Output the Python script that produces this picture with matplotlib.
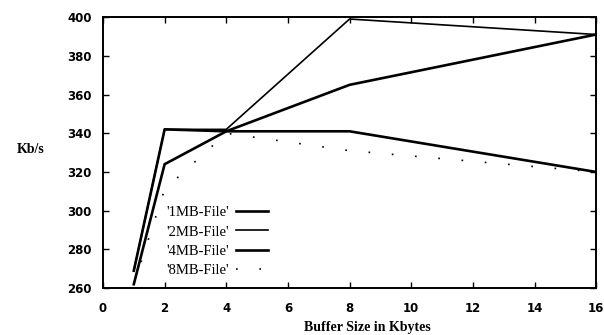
import matplotlib.pyplot as plt

# buffer sizes (Kbytes) and measured throughput (Kb/s) per file size
buf = [1, 2, 4, 8, 16]
mb1 = [269, 342, 341, 341, 320]
mb2 = [269, 342, 342, 399, 391]
mb4 = [262, 324, 341, 365, 391]
mb8 = [262, 311, 340, 331, 320]

labels = ["'1MB-File'", "'2MB-File'", "'4MB-File'", "'8MB-File'"]

fig = plt.figure(figsize=(6.04, 3.35), dpi=100)
ax = fig.add_axes([0.1705, 0.14, 0.8165, 0.809])

ax.plot(buf, mb1, color='black', lw=1.9, label=labels[0])
ax.plot(buf, mb2, color='black', lw=1.2, label=labels[1])
ax.plot(buf, mb4, color='black', lw=1.9, label=labels[2])
ax.plot(buf, mb8, color='black', lw=1.2, ls=(0, (1, 13)), label=labels[3])

ax.set_xlim(0, 16)
ax.set_ylim(260, 400)
ax.set_xticks(range(0, 17, 2))
ax.set_yticks(range(260, 401, 20))

for s in ax.spines.values():
    s.set_linewidth(1.4)

ax.tick_params(direction='in', length=4, width=1.0, top=True, right=True)
ax.tick_params(axis='x', pad=10)
ax.tick_params(axis='y', pad=8)
for t in ax.get_xticklabels() + ax.get_yticklabels():
    t.set_fontfamily('DejaVu Sans')
    t.set_fontweight('bold')
    t.set_fontsize(8.5)

ax.set_xlabel('Buffer Size in Kbytes', fontfamily='Liberation Serif',
              fontweight='bold', fontsize=10, labelpad=0)
ax.xaxis.set_label_coords(0.537, -0.12)
fig.text(0.051, 0.553, 'Kb/s', fontfamily='Liberation Serif',
         fontweight='bold', fontsize=10, ha='center', va='center')

leg = ax.legend(loc='lower right', bbox_to_anchor=(0.335, 0.04),
                frameon=False, markerfirst=False, handlelength=2.2,
                handletextpad=0.5, labelspacing=0.42, borderpad=0,
                borderaxespad=0,
                prop={'family': 'Liberation Serif', 'size': 10.5})

fig.savefig('out.png', dpi=100)
